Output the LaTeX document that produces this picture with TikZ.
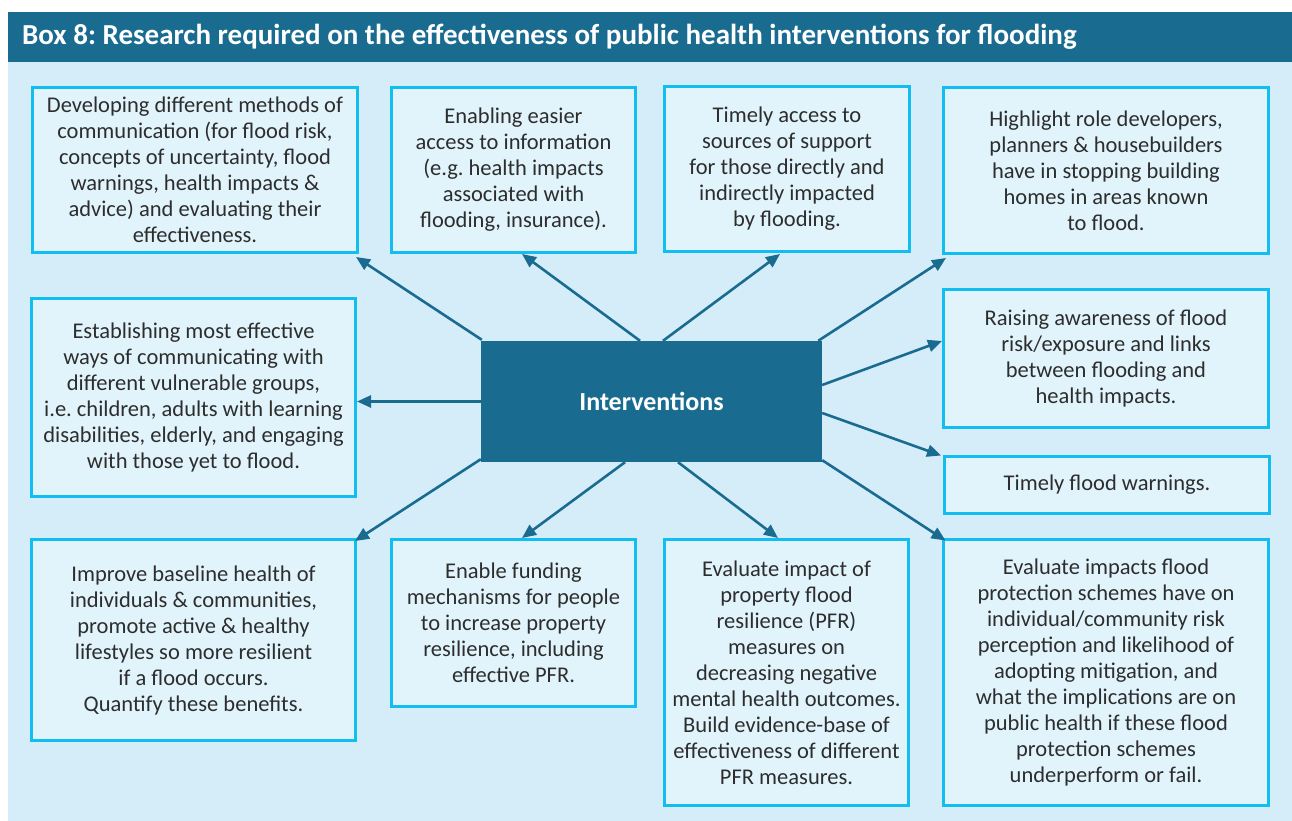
\documentclass[tikz,border=0pt]{standalone}
\usepackage{fontspec}
\setmainfont{Carlito}
\usetikzlibrary{arrows.meta}
\frenchspacing
\definecolor{teal}{RGB}{25,108,143}
\definecolor{panelbg}{RGB}{213,236,249}
\definecolor{boxfill}{RGB}{225,244,252}
\definecolor{boxline}{RGB}{18,190,240}
\definecolor{txt}{RGB}{45,45,45}
\tikzset{
  infobox/.style={draw=boxline, line width=3pt, fill=boxfill, align=center, inner sep=0pt,
    text=txt, font=\fontsize{22.5}{26}\selectfont},
  conn/.style={draw=teal, line width=2.6pt, -{Triangle[length=14pt,width=12pt]}, shorten >=0pt},
}
\begin{document}
\frenchspacing
\begin{tikzpicture}[x=1pt,y=-1pt]
\useasboundingbox (0,0) rectangle (1292,821);
\fill[white] (0,0) rectangle (1292,821);
\fill[panelbg] (8,12) rectangle (1292,821);
\fill[teal] (8,12) rectangle (1292,62);
\node[anchor=base west, inner sep=0pt, text=white, font=\fontsize{29}{33}\selectfont\bfseries] (title) at (22,45)
  {Box 8: Research required on the effectiveness of public health interventions for flooding};

\node[fill=teal, minimum width=341pt, minimum height=121pt, inner sep=0pt, text=white,
  font=\fontsize{26}{30}\selectfont\bfseries] (ctr) at (651.5,401.5) {Interventions};

\node[infobox, minimum width=325pt, minimum height=165pt] (b1) at (195,170)
  {Developing different methods of\\communication (for flood risk,\\concepts of uncertainty, flood\\warnings, health impacts \&\\advice) and evaluating their\\effectiveness.};
\node[infobox, minimum width=244pt, minimum height=165pt] (b2) at (513.5,170)
  {Enabling easier\\access to information\\(e.g. health impacts\\associated with\\flooding, insurance).};
\node[infobox, minimum width=245pt, minimum height=165pt] (b3) at (787,169)
  {Timely access to\\sources of support\\for those directly and\\indirectly impacted\\by flooding.};
\node[infobox, minimum width=325pt, minimum height=166pt] (b4) at (1106,170.5)
  {Highlight role developers,\\planners \& housebuilders\\have in stopping building\\homes in areas known\\to flood.};
\node[infobox, minimum width=324pt, minimum height=198pt] (b5) at (193.5,397.5)
  {Establishing most effective\\ways of communicating with\\different vulnerable groups,\\i.e. children, adults with learning\\disabilities, elderly, and engaging\\with those yet to flood.};
\node[infobox, minimum width=325pt, minimum height=138pt] (b6) at (1106,358.5)
  {Raising awareness of flood\\risk/exposure and links\\between flooding and\\health impacts.};
\node[infobox, minimum width=325pt, minimum height=57pt] (b7) at (1107,485)
  {Timely flood warnings.};
\node[infobox, minimum width=324pt, minimum height=201pt] (b8) at (193.5,640)
  {Improve baseline health of\\individuals \& communities,\\promote active \& healthy\\lifestyles so more resilient\\if a flood occurs.\\Quantify these benefits.};
\node[infobox, minimum width=244pt, minimum height=167pt] (b9) at (513.5,623)
  {Enable funding\\mechanisms for people\\to increase property\\resilience, including\\effective PFR.};
\node[infobox, minimum width=244pt, minimum height=266pt] (b10) at (786.5,672.5)
  {Evaluate impact of\\property flood\\resilience (PFR)\\measures on\\decreasing negative\\mental health outcomes.\\Build evidence-base of\\effectiveness of different\\PFR measures.};
\node[infobox, minimum width=325pt, minimum height=266pt] (b11) at (1106,672.5)
  {Evaluate impacts flood\\protection schemes have on\\individual/community risk\\perception and likelihood of\\adopting mitigation, and\\what the implications are on\\public health if these flood\\protection schemes\\underperform or fail.};

\draw[conn] ([shift={(1,-1)}]ctr.north west) -- ([shift={(-3,3)}]b1.south east);
\draw[conn] ([shift={(-11.5,0)}]ctr.north) -- ([shift={(8.5,0)}]b2.south);
\draw[conn] ([shift={(11.5,0)}]ctr.north) -- ([shift={(-7,1)}]b3.south);
\draw[conn] ([shift={(-4,0)}]ctr.north east) -- ([shift={(4,3)}]b4.south west);
\draw[conn] (ctr.west) -- (ctr.west -| b5.east);
\draw[conn] ([shift={(0,-16.5)}]ctr.east) -- ([shift={(0,-17.5)}]b6.west);
\draw[conn] ([shift={(0,11.5)}]ctr.east) -- ([shift={(-2,0.5)}]b7.north west);
\draw[conn] ([shift={(0,-3)}]ctr.south west) -- ([shift={(-2,3)}]b8.north east);
\draw[conn] ([shift={(-26.5,0)}]ctr.south) -- ([shift={(8.5,0)}]b9.north);
\draw[conn] ([shift={(26.5,0)}]ctr.south) -- ([shift={(-8.5,0)}]b10.north);
\draw[conn] ([shift={(0,-2)}]ctr.south east) -- ([shift={(3.5,2.5)}]b11.north west);
\end{tikzpicture}
\end{document}
